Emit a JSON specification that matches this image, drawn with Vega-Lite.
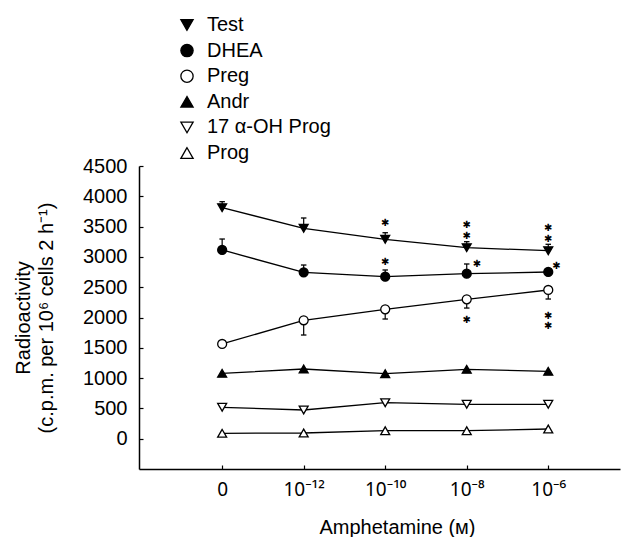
{
  "$schema": "https://vega.github.io/schema/vega-lite/v6.json",
  "width": 481,
  "height": 303,
  "autosize": {"type": "none"},
  "padding": {"left": 139, "top": 166, "right": 3, "bottom": 68},
  "background": "white",
  "config": {
    "font": "Liberation Sans",
    "view": {"stroke": null},
    "axis": {
      "grid": false,
      "domainColor": "black",
      "domainWidth": 1.5,
      "tickColor": "black",
      "tickWidth": 1.2,
      "tickSize": -4,
      "labelColor": "black",
      "labelFont": "Liberation Sans",
      "labelFontSize": 20,
      "labelOverlap": false,
      "labelFlush": false,
      "titleColor": "black",
      "titleFont": "Liberation Sans",
      "titleFontSize": 20,
      "titleFontWeight": "normal"
    },
    "legend": {
      "orient": "none", "legendX": 38, "legendY": -151, "title": null,
      "labelFontSize": 20, "labelColor": "black", "labelFont": "Liberation Sans",
      "symbolSize": 150, "symbolStrokeColor": "black", "symbolStrokeWidth": 1.3,
      "rowPadding": 5.6, "labelOffset": 10
    }
  },
  "datasets": {
    "points": [
      {"series": "Test", "x": 0, "y": 3812},
      {"series": "Test", "x": 1, "y": 3472},
      {"series": "Test", "x": 2, "y": 3290},
      {"series": "Test", "x": 3, "y": 3152},
      {"series": "Test", "x": 4, "y": 3102},
      {"series": "DHEA", "x": 0, "y": 3114},
      {"series": "DHEA", "x": 1, "y": 2746},
      {"series": "DHEA", "x": 2, "y": 2673},
      {"series": "DHEA", "x": 3, "y": 2723},
      {"series": "DHEA", "x": 4, "y": 2751},
      {"series": "Preg", "x": 0, "y": 1563},
      {"series": "Preg", "x": 1, "y": 1954},
      {"series": "Preg", "x": 2, "y": 2135},
      {"series": "Preg", "x": 3, "y": 2300},
      {"series": "Preg", "x": 4, "y": 2454},
      {"series": "Andr", "x": 0, "y": 1079},
      {"series": "Andr", "x": 1, "y": 1150},
      {"series": "Andr", "x": 2, "y": 1073},
      {"series": "Andr", "x": 3, "y": 1145},
      {"series": "Andr", "x": 4, "y": 1112},
      {"series": "17 α-OH Prog", "x": 0, "y": 518},
      {"series": "17 α-OH Prog", "x": 1, "y": 474},
      {"series": "17 α-OH Prog", "x": 2, "y": 594},
      {"series": "17 α-OH Prog", "x": 3, "y": 568},
      {"series": "17 α-OH Prog", "x": 4, "y": 568},
      {"series": "Prog", "x": 0, "y": 89},
      {"series": "Prog", "x": 1, "y": 94},
      {"series": "Prog", "x": 2, "y": 132},
      {"series": "Prog", "x": 3, "y": 132},
      {"series": "Prog", "x": 4, "y": 160}
    ],
    "errors": [
      {"series": "Test", "x": 0, "y": 3812, "errEnd": 3911},
      {"series": "Test", "x": 1, "y": 3472, "errEnd": 3642},
      {"series": "Test", "x": 2, "y": 3290, "errEnd": 3399},
      {"series": "Test", "x": 3, "y": 3152, "errEnd": 3251},
      {"series": "Test", "x": 4, "y": 3102, "errEnd": 3208},
      {"series": "DHEA", "x": 0, "y": 3114, "errEnd": 3295},
      {"series": "DHEA", "x": 1, "y": 2746, "errEnd": 2866},
      {"series": "DHEA", "x": 2, "y": 2673, "errEnd": 2784},
      {"series": "DHEA", "x": 3, "y": 2723, "errEnd": 2883},
      {"series": "Preg", "x": 1, "y": 1954, "errEnd": 1711},
      {"series": "Preg", "x": 2, "y": 2135, "errEnd": 1975},
      {"series": "Preg", "x": 3, "y": 2300, "errEnd": 2156},
      {"series": "Preg", "x": 4, "y": 2454, "errEnd": 2305}
    ],
    "stars": [
      {"x": 2, "y": 3559, "t": "✱"},
      {"x": 3, "y": 3526, "t": "✱\n✱"},
      {"x": 4, "y": 3476, "t": "✱\n✱"},
      {"x": 2, "y": 2921, "t": "✱"},
      {"x": 3.125, "y": 2883, "t": "✱"},
      {"x": 4.1, "y": 2850, "t": "✱"},
      {"x": 3, "y": 1959, "t": "✱"},
      {"x": 4, "y": 2025, "t": "✱\n✱"}
    ]
  },
  "encoding": {
    "x": {
      "field": "x", "type": "quantitative",
      "scale": {"domain": [-1.02, 4.88], "nice": false, "zero": false},
      "axis": {
        "values": [0, 1, 2, 3, 4],
        "labelExpr": "['0','10⁻¹²','10⁻¹⁰','10⁻⁸','10⁻⁶'][datum.value]",
        "labelFont": "Noto Sans",
        "labelFontSize": 19,
        "labelPadding": 15,
        "title": "Amphetamine (ᴍ)",
        "titleX": 258,
        "titleY": 64,
        "titleBaseline": "alphabetic"
      }
    },
    "y": {
      "field": "y", "type": "quantitative",
      "scale": {"domain": [-500, 4500], "nice": false, "zero": false},
      "axis": {
        "values": [0, 500, 1000, 1500, 2000, 2500, 3000, 3500, 4000, 4500],
        "format": "d",
        "labelPadding": 16,
        "title": ["Radioactivity", "(c.p.m. per 10⁶ cells 2 h⁻¹)"],
        "titleX": -126,
        "titleBaseline": "top",
        "titleLineHeight": 23
      }
    }
  },
  "layer": [
    {
      "data": {"name": "points"},
      "mark": {"type": "line", "color": "black", "strokeWidth": 1.3},
      "encoding": {
        "detail": {"field": "series"}
      }
    },
    {
      "data": {"name": "errors"},
      "mark": {"type": "rule", "color": "black", "strokeWidth": 1.2},
      "encoding": {
        "y2": {"field": "errEnd"}
      }
    },
    {
      "data": {"name": "errors"},
      "mark": {"type": "point", "shape": "stroke", "size": 30, "stroke": "black", "strokeWidth": 1.3, "opacity": 1},
      "encoding": {
        "y": {
          "field": "errEnd", "type": "quantitative",
          "axis": {
            "values": [0, 500, 1000, 1500, 2000, 2500, 3000, 3500, 4000, 4500],
            "format": "d",
            "labelPadding": 16,
            "title": ["Radioactivity", "(c.p.m. per 10⁶ cells 2 h⁻¹)"],
            "titleX": -126,
            "titleBaseline": "top",
            "titleLineHeight": 23
          }
        }
      }
    },
    {
      "data": {"name": "points"},
      "mark": {"type": "point", "filled": true, "strokeWidth": 1.3, "size": 80, "opacity": 1},
      "encoding": {
        "shape": {
          "field": "series", "type": "nominal",
          "scale": {
            "domain": ["Test", "DHEA", "Preg", "Andr", "17 α-OH Prog", "Prog"],
            "range": ["triangle-down", "circle", "circle", "triangle-up", "triangle-down", "triangle-up"]
          }
        },
        "fill": {
          "field": "series", "type": "nominal",
          "scale": {
            "domain": ["Test", "DHEA", "Preg", "Andr", "17 α-OH Prog", "Prog"],
            "range": ["black", "black", "white", "black", "white", "white"]
          }
        },
        "stroke": {
          "field": "series", "type": "nominal",
          "scale": {
            "domain": ["Test", "DHEA", "Preg", "Andr", "17 α-OH Prog", "Prog"],
            "range": ["black", "black", "black", "black", "black", "black"]
          }
        }
      }
    },
    {
      "data": {"name": "stars"},
      "mark": {"type": "text", "fontSize": 10, "baseline": "middle", "lineBreak": "\n", "lineHeight": 10.5, "color": "black", "font": "DejaVu Sans"},
      "encoding": {
        "text": {"field": "t"}
      }
    }
  ]
}
